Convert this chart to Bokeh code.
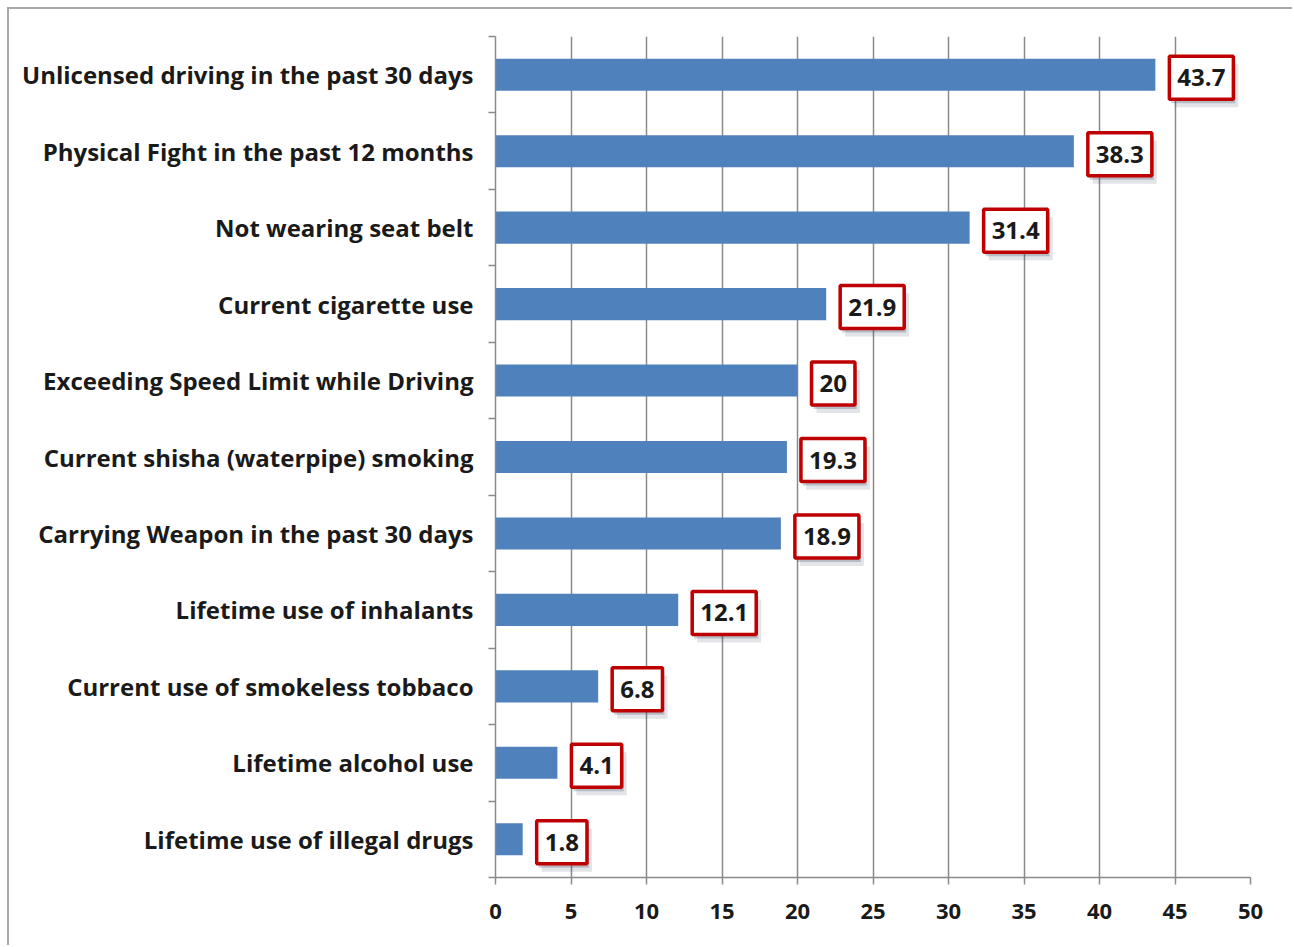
from bokeh.plotting import figure
from bokeh.models import ColumnDataSource, FixedTicker, Range1d
from bokeh.core.properties import value
from bokeh.embed import file_html
from bokeh.resources import INLINE

categories = [
    "Unlicensed driving in the past 30 days",
    "Physical Fight in the past 12 months",
    "Not wearing seat belt",
    "Current cigarette use",
    "Exceeding Speed Limit while Driving",
    "Current shisha (waterpipe) smoking",
    "Carrying Weapon in the past 30 days",
    "Lifetime use of inhalants",
    "Current use of smokeless tobbaco",
    "Lifetime alcohol use",
    "Lifetime use of illegal drugs",
]
values = [43.7, 38.3, 31.4, 21.9, 20, 19.3, 18.9, 12.1, 6.8, 4.1, 1.8]
value_labels = ["43.7", "38.3", "31.4", "21.9", "20", "19.3", "18.9", "12.1", "6.8", "4.1", "1.8"]
x_ticks = [0, 5, 10, 15, 20, 25, 30, 35, 40, 45, 50]

n = len(categories)
ypos = [n - 1 - i for i in range(n)]

src = ColumnDataSource(dict(cat=categories, val=values, lab=value_labels, y=ypos))

FONT = "Open Sans"
GRAY = "#8a8a8a"
TXT = "#1a1a1a"

p = figure(width=1285, height=938, output_backend="svg", toolbar_location=None,
           x_range=Range1d(0, 50), y_range=Range1d(-0.5, n - 0.5),
           min_border_left=486, min_border_right=44, min_border_top=27, min_border_bottom=70)
p.styles = {"border-left": "2px solid #a8a8a8", "border-top": "2px solid #a8a8a8",
            "margin-left": "7px", "margin-top": "7px"}
p.outline_line_color = None
p.background_fill_color = "white"

p.hbar(y="y", left=0, right="val", height=0.42, source=src, color="#4F81BD", line_color=None)

# grid
p.ygrid.grid_line_color = None
p.xgrid.ticker = FixedTicker(ticks=x_ticks)
p.xgrid.grid_line_color = GRAY
p.xgrid.grid_line_width = 1.5

# x axis
p.xaxis.ticker = FixedTicker(ticks=x_ticks)
p.xaxis.axis_line_color = GRAY
p.xaxis.axis_line_width = 1.5
p.xaxis.major_tick_line_color = GRAY
p.xaxis.major_tick_line_width = 1.5
p.xaxis.major_tick_out = 7
p.xaxis.major_tick_in = 0
p.xaxis.minor_tick_line_color = None
p.xaxis.major_label_text_font = FONT
p.xaxis.major_label_text_font_style = "bold"
p.xaxis.major_label_text_font_size = "22px"
p.xaxis.major_label_text_color = TXT
p.xaxis.major_label_standoff = 19

# y axis: labels at category centres, tick marks at boundaries
p.yaxis.ticker = FixedTicker(ticks=ypos, minor_ticks=[k - 0.5 for k in range(n + 1)])
p.yaxis.major_label_overrides = {y: c for y, c in zip(ypos, categories)}
p.yaxis.axis_line_color = GRAY
p.yaxis.axis_line_width = 1.5
p.yaxis.major_tick_line_color = None
p.yaxis.minor_tick_line_color = GRAY
p.yaxis.minor_tick_line_width = 1.5
p.yaxis.minor_tick_out = 7
p.yaxis.minor_tick_in = 0
p.yaxis.major_tick_out = 0
p.yaxis.major_tick_in = 0
p.yaxis.major_label_standoff = 15
p.yaxis.major_label_text_font = FONT
p.yaxis.major_label_text_font_style = "bold"
p.yaxis.major_label_text_font_size = "24px"
p.yaxis.major_label_text_color = TXT

PAD = dict(left=8, right=8, top=13, bottom=13)
SHADOW = "#33435e"
# value label shadows
for dx, dy, a in [(2, 4, 0.25), (5, 8, 0.14)]:
    p.text(x="val", y="y", text="lab", source=src, x_offset=14 + dx, y_offset=3 + dy,
           text_align="left", text_baseline="middle",
           text_font=value(FONT), text_font_style="bold", text_font_size="24px",
           text_color=SHADOW, text_alpha=a, background_fill_color=SHADOW, background_fill_alpha=a,
           padding=PAD)

# value labels with red boxes
p.text(x="val", y="y", text="lab", source=src, x_offset=14, y_offset=3,
       text_align="left", text_baseline="middle",
       text_font=value(FONT), text_font_style="bold", text_font_size="24px",
       text_color=TXT, background_fill_color="white",
       border_line_color="#C00000", border_line_width=3.5,
       padding=PAD)

open("out.html", "w").write(file_html(p, INLINE))
